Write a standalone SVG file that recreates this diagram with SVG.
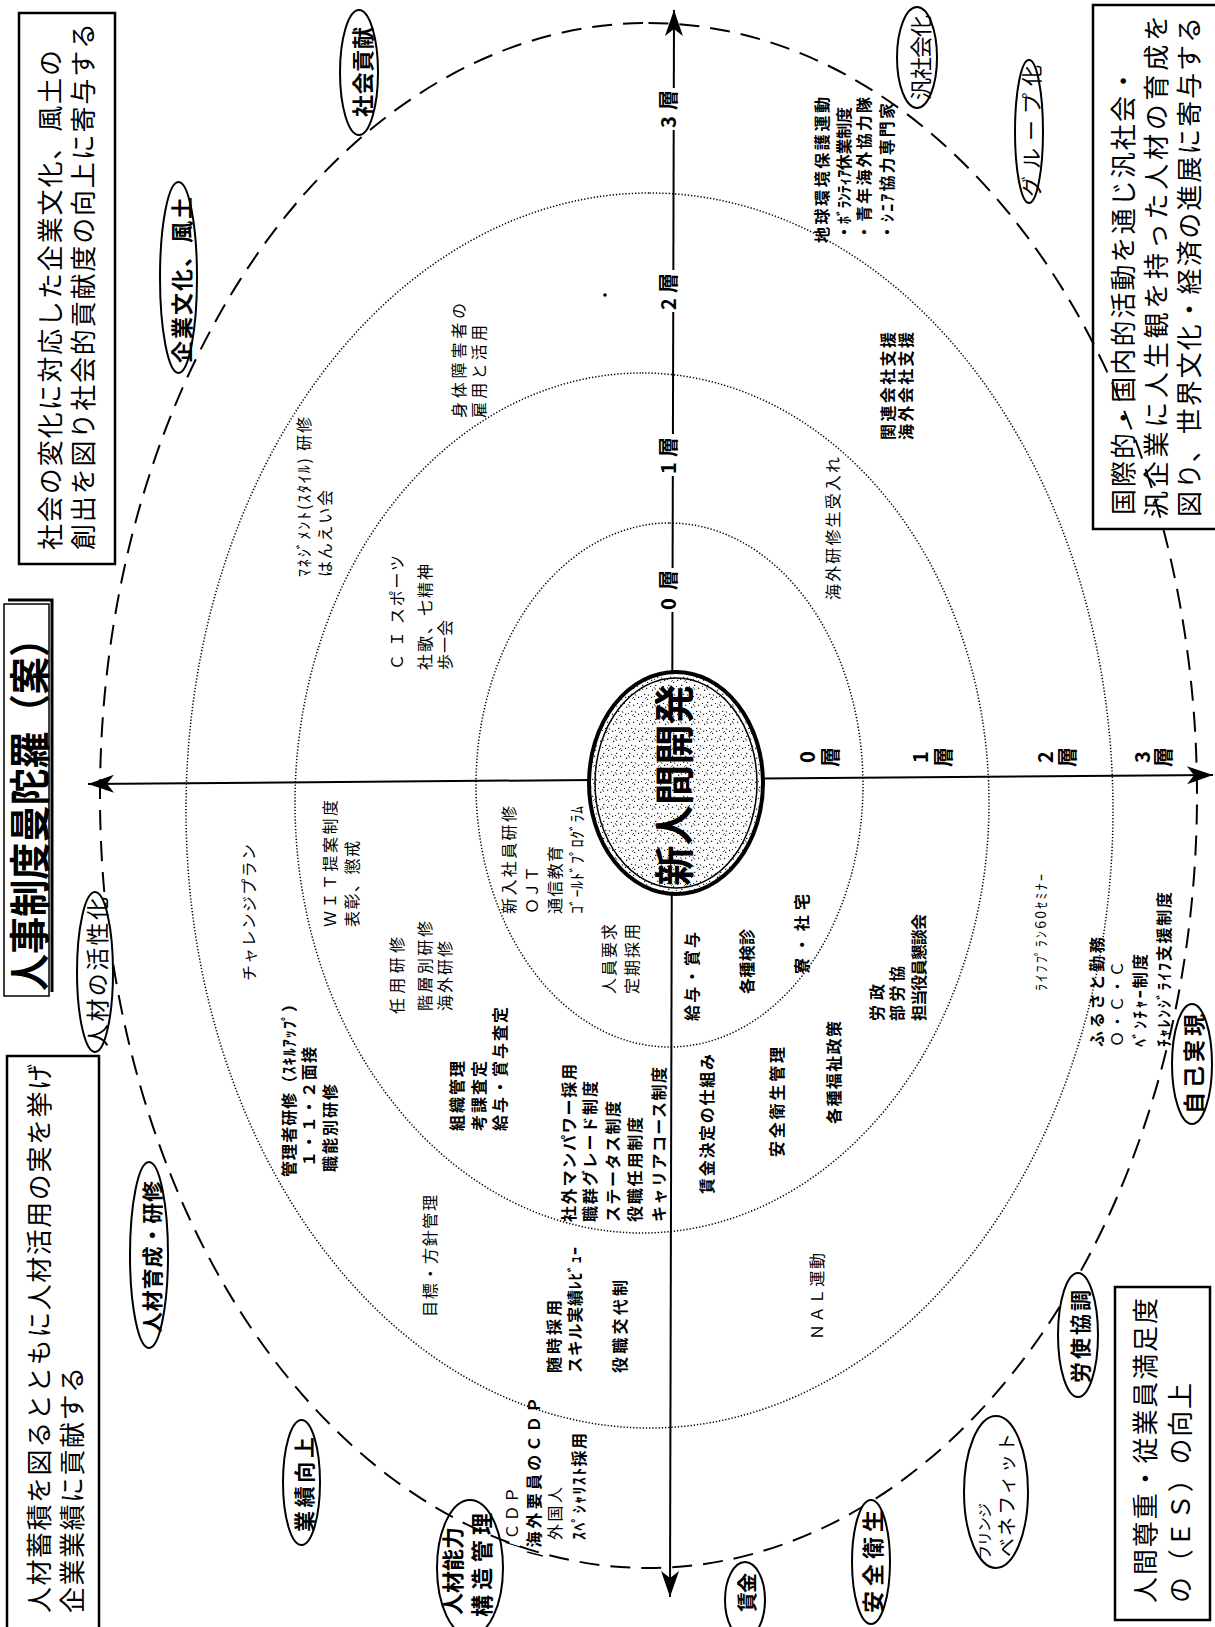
<svg xmlns="http://www.w3.org/2000/svg" width="1215" height="1627" viewBox="0 0 1215 1627">
<style>
.t{font-family:"Noto Sans CJK JP","Noto Sans CJK SC",sans-serif;font-size:16px;fill:#000}
.b{font-weight:700}
.big{font-size:26px}
.lab{font-size:22px;font-weight:700}
.lay{font-size:20px;font-weight:700}
.ring{fill:none;stroke:#000;stroke-width:1.5;stroke-dasharray:1.3 1.9}
.dash{fill:none;stroke:#000;stroke-width:2;stroke-dasharray:20 11}
.box{fill:none;stroke:#000;stroke-width:2.5}
.ov{fill:#fff;stroke:#000;stroke-width:2}
.ax{stroke:#000;stroke-width:2;fill:none}
</style>
<defs>
<marker id="arr" viewBox="-27 -10 29 20" refX="0" refY="0" markerWidth="29" markerHeight="20" markerUnits="userSpaceOnUse" orient="auto-start-reverse">
<path d="M0,0 L-26,-9 L-19,0 L-26,9 Z" fill="#000"/>
</marker>
<pattern id="spk" width="17" height="13" patternUnits="userSpaceOnUse">
<rect width="17" height="13" fill="#fff"/>
<g fill="#222">
<rect x="1" y="2" width="1.4" height="1.2"/><rect x="6" y="5" width="1.2" height="1.4"/><rect x="11" y="1" width="1.3" height="1.2"/>
<rect x="14" y="7" width="1.2" height="1.3"/><rect x="3" y="9" width="1.3" height="1.2"/><rect x="9" y="10" width="1.2" height="1.2"/>
<rect x="12" y="4" width="1" height="1"/><rect x="5" y="0" width="1" height="1"/>
</g>
<path d="M2,6 l3,-2 M10,8 l2,2 M15,11 l-2,1" stroke="#333" stroke-width="0.8"/>
</pattern>
</defs>
<rect width="1215" height="1627" fill="#fff"/>
<g transform="translate(0,1627) rotate(-90)">

<g id="rings">
<ellipse class="ring" cx="816.5" cy="649.5" rx="617.5" ry="463.5"/>
<ellipse class="ring" cx="824" cy="642" rx="430" ry="347"/>
<ellipse class="ring" cx="842" cy="669.5" rx="262" ry="193.5"/>
<ellipse class="dash" cx="831.5" cy="648.5" rx="772.5" ry="548.5"/>
</g>

<g id="connectors">
<line class="ax" x1="30" y1="670" x2="1617" y2="674" marker-start="url(#arr)" marker-end="url(#arr)"/>
<line class="ax" x1="843" y1="88" x2="852" y2="1213" marker-start="url(#arr)" marker-end="url(#arr)"/>
</g>

<g id="axis-labels">
<rect x="1497" y="655" width="42" height="24" fill="#fff"/>
<text class="t lay" x="1499" y="676" textLength="38">3層</text>
<rect x="1315" y="655" width="42" height="24" fill="#fff"/>
<text class="t lay" x="1317" y="676" textLength="37">2層</text>
<rect x="1151" y="655" width="42" height="24" fill="#fff"/>
<text class="t lay" x="1153" y="676" textLength="37">1層</text>
<rect x="1015" y="655" width="44" height="24" fill="#fff"/>
<text class="t lay" x="1017" y="676" textLength="40">0層</text>
<g text-anchor="middle">
<text class="t lay" x="870" y="815">0</text><text class="t lay" x="870" y="838">層</text>
<text class="t lay" x="870" y="928">1</text><text class="t lay" x="870" y="951">層</text>
<text class="t lay" x="870" y="1053">2</text><text class="t lay" x="870" y="1075">層</text>
<text class="t lay" x="870" y="1150">3</text><text class="t lay" x="870" y="1171">層</text>
</g>
</g>

<g id="center">
<ellipse cx="844" cy="676" rx="111" ry="87" fill="url(#spk)" stroke="#000" stroke-width="4"/>
<ellipse cx="844" cy="676" rx="105" ry="81" fill="none" stroke="#000" stroke-width="1.5"/>
<text class="t b" x="741" y="689" style="font-size:40px" textLength="202" lengthAdjust="spacingAndGlyphs">新人間開発</text>
</g>

<g id="box-title">
<rect x="631" y="4" width="392" height="45" fill="none" stroke="#000" stroke-width="1.5"/>
<path d="M635,52 H1027 V8" fill="none" stroke="#000" stroke-width="3"/>
<text class="t b" x="636" y="45" style="font-size:41px" textLength="371" lengthAdjust="spacingAndGlyphs">人事制度曼陀羅（案）</text>
</g>

<g id="box-society">
<rect class="box" x="1063" y="19" width="551" height="96"/>
<text class="t big" x="1077" y="60" textLength="500">社会の変化に対応した企業文化、風土の</text>
<text class="t big" x="1077" y="93" textLength="527">創出を図り社会的貢献度の向上に寄与する</text>
</g>

<g id="box-performance">
<path class="box" d="M-3,7 H571 V99 H-3"/>
<text class="t big" x="14" y="49" textLength="549">人材蓄積を図るとともに人材活用の実を挙げ</text>
<text class="t big" x="14" y="82" textLength="246">企業業績に貢献する</text>
</g>

<g id="box-global">
<path class="box" d="M1098,1220 V1093 H1622 V1220"/>
<text class="t big" x="1112" y="1133" textLength="447">国際的・国内的活動を通じ汎社会・</text>
<text class="t big" x="1110" y="1166" textLength="502">汎企業に人生観を持った人材の育成を</text>
<text class="t big" x="1110" y="1199" textLength="500">図り、世界文化・経済の進展に寄与する</text>
</g>

<g id="box-es">
<rect class="box" x="7" y="1115" width="333" height="95"/>
<text class="t big" x="24" y="1155" textLength="305">人間尊重・従業員満足度</text>
<text class="t big" x="24" y="1190" textLength="220">の（ＥＳ）の向上</text>
</g>

<g id="ov-shakaikouken"><ellipse class="ov" cx="1554.5" cy="359" rx="62.5" ry="19"/><text class="t lab" x="1510" y="371" textLength="90">社会貢献</text></g>
<g id="ov-kigyobunka"><ellipse class="ov" cx="1349.5" cy="178.5" rx="95.5" ry="18.5"/><text class="t lab" x="1264" y="190" textLength="166">企業文化、風土</text></g>
<g id="ov-hanshakai"><ellipse class="ov" cx="1569.5" cy="917" rx="50.5" ry="20"/><text class="t" style="font-size:22px" x="1527" y="929" textLength="85">汎社会化</text></g>
<g id="ov-group"><ellipse class="ov" cx="1495.5" cy="1029" rx="71.5" ry="14"/><text class="t" style="font-size:21px" x="1430" y="1039" textLength="132">グループ化</text></g>
<g id="ov-kasseika"><ellipse class="ov" cx="655" cy="95" rx="80" ry="18"/><text class="t" style="font-size:23px" x="580" y="106" textLength="150">人材の活性化</text></g>
<g id="ov-ikusei"><ellipse class="ov" cx="372" cy="149" rx="93" ry="19"/><text class="t b" style="font-size:21px" x="294" y="160" textLength="152">人材育成・研修</text></g>
<g id="ov-gyoseki"><ellipse class="ov" cx="144.5" cy="301.5" rx="62.5" ry="18.5"/><text class="t b" style="font-size:21px" x="95" y="312" textLength="95">業績向上</text></g>
<g id="ov-noryoku"><ellipse cx="59" cy="470" rx="68" ry="33" fill="none" stroke="#000" stroke-width="2"/><text class="t lab" x="12" y="461" textLength="88">人材能力</text><text class="t lab" x="10" y="490" textLength="104">構造管理</text></g>
<g id="ov-chingin"><ellipse class="ov" cx="27" cy="745" rx="38" ry="20"/><text class="t b" style="font-size:20px" x="15" y="755" textLength="39">賃金</text></g>
<g id="ov-anzen"><ellipse class="ov" cx="65" cy="871" rx="62" ry="19"/><text class="t lab" x="14" y="881" textLength="103">安全衛生</text></g>
<g id="ov-fringe"><ellipse class="ov" cx="135" cy="996" rx="76" ry="32"/><text class="t" style="font-size:15px" x="67" y="990" textLength="57">フリンジ</text><text class="t" style="font-size:19px" x="70" y="1014" textLength="124">ベネフィット</text></g>
<g id="ov-roushi"><ellipse class="ov" cx="292" cy="1078" rx="62" ry="20"/><text class="t b" style="font-size:21px" x="244" y="1088" textLength="93">労使協調</text></g>
<g id="ov-jiko"><ellipse class="ov" cx="563" cy="1192" rx="60" ry="20"/><text class="t lab" x="513" y="1202" textLength="100">自己実現</text></g>

<g id="items">
<text class="t" x="1050" y="310" textLength="160">ﾏﾈｼﾞﾒﾝﾄ(ｽﾀｲﾙ) 研修</text>
<text class="t" x="1050" y="331" textLength="87">はんえい会</text>
<text class="t" x="957" y="403" textLength="115">Ｃ Ｉ スポーツ</text>
<text class="t" x="957" y="431" textLength="106">社歌、七精神</text>
<text class="t" x="957" y="451" textLength="50">歩一会</text>
<text class="t" x="1209" y="465" textLength="115">身体障害者の</text>
<text class="t" x="1209" y="485" textLength="93">雇用と活用</text>
<text class="t b" x="1384" y="828" textLength="146">地球環境保護運動</text>
<text class="t b" x="1387" y="850" textLength="133">・ﾎﾞﾗﾝﾃｨｱ休業制度</text>
<text class="t b" x="1387" y="870" textLength="143">・青年海外協力隊</text>
<text class="t b" x="1387" y="893" textLength="137">・ｼﾆｱ協力専門家</text>
<text class="t b" x="1187" y="894" textLength="108">関連会社支援</text>
<text class="t b" x="1187" y="912" textLength="108">海外会社支援</text>
<text class="t" x="1027" y="839" textLength="143">海外研修生受入れ</text>
<text class="t" x="646" y="255" textLength="137">チャレンジプラン</text>
<text class="t" x="700" y="336" textLength="127">ＷＩＴ提案制度</text>
<text class="t" x="700" y="358" textLength="86">表彰、懲戒</text>
<text class="t b" x="450" y="295" textLength="181">管理者研修（ｽｷﾙｱｯﾌﾟ）</text>
<text class="t b" x="460" y="315" textLength="120">１・１・２面接</text>
<text class="t b" x="455" y="336" textLength="88">職能別研修</text>
<text class="t" x="613" y="403" textLength="77">任用研修</text>
<text class="t" x="616" y="431" textLength="90">階層別研修</text>
<text class="t" x="616" y="451" textLength="70">海外研修</text>
<text class="t" x="713" y="515" textLength="108">新入社員研修</text>
<text class="t" x="713" y="538" textLength="48">ＯＪＴ</text>
<text class="t" x="713" y="561" textLength="68">通信教育</text>
<text class="t" x="713" y="583" textLength="108">ｺﾞｰﾙﾄﾞﾌﾟﾛｸﾞﾗﾑ</text>
<text class="t" x="633" y="615" textLength="70">人員要求</text>
<text class="t" x="633" y="638" textLength="70">定期採用</text>
<text class="t b" x="606" y="698" textLength="89">給与・賞与</text>
<text class="t b" x="633" y="753" textLength="65">各種検診</text>
<text class="t b" x="653" y="808" textLength="80">寮・社宅</text>
<text class="t b" x="496" y="463" textLength="70">組織管理</text>
<text class="t b" x="496" y="485" textLength="70">考課査定</text>
<text class="t b" x="496" y="506" textLength="124">給与・賞与査定</text>
<text class="t b" x="405" y="575" textLength="158">社外マンパワー採用</text>
<text class="t b" x="405" y="596" textLength="141">職群グレード制度</text>
<text class="t b" x="405" y="619" textLength="121">ステータス制度</text>
<text class="t b" x="405" y="641" textLength="105">役職任用制度</text>
<text class="t b" x="405" y="665" textLength="155">キャリアコース制度</text>
<text class="t b" x="433" y="713" textLength="140">賃金決定の仕組み</text>
<text class="t b" x="470" y="783" textLength="110">安全衛生管理</text>
<text class="t b" x="503" y="840" textLength="103">各種福祉政策</text>
<text class="t b" x="606" y="883" textLength="37">労政</text>
<text class="t b" x="606" y="903" textLength="55">部労協</text>
<text class="t b" x="606" y="925" textLength="107">担当役員懇談会</text>
<text class="t" style="font-size:14px" x="636" y="1046" textLength="117">ﾗｲﾌﾌﾟﾗﾝ60ｾﾐﾅｰ</text>
<text class="t b" x="580" y="1103" textLength="110">ふるさと勤務</text>
<text class="t" x="580" y="1123" textLength="86">Ｏ・Ｃ・Ｃ</text>
<text class="t b" x="580" y="1146" textLength="93">ﾍﾞﾝﾁｬｰ制度</text>
<text class="t b" x="580" y="1170" textLength="155">ﾁｬﾚﾝｼﾞﾗｲﾌ支援制度</text>
<text class="t" x="310" y="436" textLength="122">目標・方針管理</text>
<text class="t b" x="254" y="560" textLength="73">随時採用</text>
<text class="t b" x="254" y="581" textLength="126">スキル実績ﾚﾋﾞｭｰ</text>
<text class="t b" x="254" y="626" textLength="93">役職交代制</text>
<text class="t" x="287" y="823" textLength="87">ＮＡＬ運動</text>
<text class="t" x="79" y="518" textLength="61">/ＣＤＰ</text>
<text class="t b" x="70" y="540" textLength="160">/海外要員のＣＤＰ</text>
<text class="t" x="87" y="561" textLength="53">外国人</text>
<text class="t b" x="87" y="585" textLength="107">ｽﾍﾟｼｬﾘｽﾄ採用</text>
</g>
<circle cx="1332" cy="605" r="1.8" fill="#000"/>
</g>
</svg>
